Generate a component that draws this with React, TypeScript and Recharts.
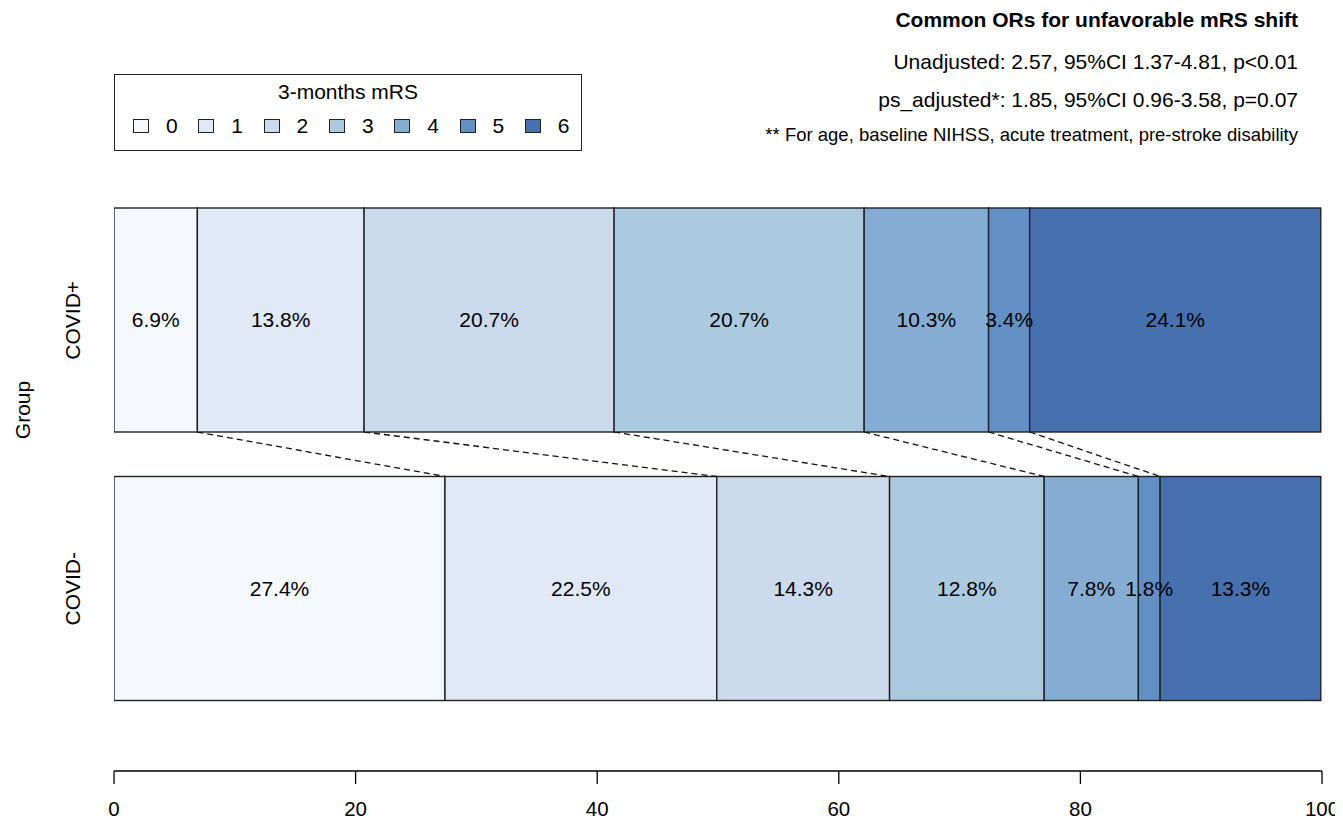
import { BarChart, Bar, XAxis, YAxis, LabelList } from 'recharts';

const groups = ['COVID+', 'COVID-'];
const levels = ['0', '1', '2', '3', '4', '5', '6'];
const covidPos = [6.9, 13.8, 20.7, 20.7, 10.3, 3.4, 24.1];
const covidNeg = [27.4, 22.5, 14.3, 12.8, 7.8, 1.8, 13.3];
const xTicks = [0, 20, 40, 60, 80, 100];
const colors = ['#f5f9fe', '#e0e9f5', '#cbdaed', '#abc9df', '#85add4', '#6290c5', '#4670ae'];

const noteTitle = 'Common ORs for unfavorable mRS shift';
const noteLines = [
  'Unadjusted: 2.57, 95%CI 1.37-4.81, p<0.01',
  'ps_adjusted*: 1.85, 95%CI 0.96-3.58, p=0.07',
];
const footNote = '** For age, baseline NIHSS, acute treatment, pre-stroke disability';

const rows = groups.map((g, gi) => {
  const vals = gi === 0 ? covidPos : covidNeg;
  const row: any = { group: g };
  levels.forEach((l, i) => { row['m' + l] = vals[i]; });
  return row;
});

const FONT = '"Liberation Sans", Arial, Helvetica, sans-serif';

// right edge of each top-bar segment, filled while bars render, read by the bottom bar
const edges: Record<number, { x: number; y: number }> = {};

function makeShape(level: number) {
  return (props: any) => {
    const { x, y, width, height, fill, index } = props;
    let link = null;
    if (index === 0) {
      edges[level] = { x: x + width, y: y + height };
    } else if (level < levels.length - 1 && edges[level]) {
      link = (
        <line x1={edges[level].x} y1={edges[level].y} x2={x + width} y2={y}
          stroke="#111" strokeWidth={1.3} strokeDasharray="6 4" />
      );
    }
    return (
      <g>
        <rect x={x} y={y} width={width} height={height} fill={fill} stroke="#222" strokeWidth={1.4} />
        {link}
      </g>
    );
  };
}

const GroupTick = (props: any) => {
  const { x, y, payload } = props;
  const cx = x - 34;
  return (
    <text x={cx} y={y} transform={`rotate(-90, ${cx}, ${y})`} textAnchor="middle"
      dominantBaseline="central" fontSize={21} fill="#000" fontFamily={FONT}>
      {payload.value}
    </text>
  );
};

function Legend() {
  return (
    <div style={{
      position: 'absolute', left: 106, top: 66, width: 468, height: 77,
      border: '1.5px solid #222', boxSizing: 'border-box', fontFamily: FONT, color: '#000',
    }}>
      <div style={{ position: 'absolute', top: 5, width: '100%', textAlign: 'center', fontSize: 21, lineHeight: '24px' }}>
        3-months mRS
      </div>
      {levels.map((l, i) => (
        <div key={l} style={{ position: 'absolute', left: 18 + i * 65.3, top: 39, height: 24, display: 'flex', alignItems: 'center' }}>
          <span style={{ display: 'inline-block', width: 14, height: 12, background: colors[i], border: '1px solid #222' }} />
          <span style={{ marginLeft: 17, fontSize: 21, lineHeight: '24px' }}>{l}</span>
        </div>
      ))}
    </div>
  );
}

export default function App() {
  return (
    <div style={{ position: 'relative', width: 1335, height: 811, fontFamily: FONT }}>
      <div style={{ position: 'absolute', right: 45, top: 0, textAlign: 'right', color: '#000', whiteSpace: 'nowrap' }}>
        <div style={{ fontSize: 21, fontWeight: 'bold', lineHeight: '24px', marginTop: 0 }}>{noteTitle}</div>
        <div style={{ fontSize: 21, lineHeight: '24px', marginTop: 18 }}>{noteLines[0]}</div>
        <div style={{ fontSize: 21, lineHeight: '24px', marginTop: 14 }}>{noteLines[1]}</div>
        <div style={{ fontSize: 18.5, lineHeight: '20px', marginTop: 13 }}>{footNote}</div>
      </div>
      <Legend />
      <BarChart width={1335} height={811} data={rows} layout="vertical"
        margin={{ top: 178, right: 21, bottom: 0, left: 0 }} barSize={224}>
        <XAxis type="number" domain={[0, 100]} ticks={xTicks} allowDataOverflow
          tickSize={13} tickMargin={17} height={48}
          axisLine={{ stroke: '#000', strokeWidth: 1.3 }} tickLine={{ stroke: '#000', strokeWidth: 1.3 }}
          tick={{ fontSize: 20.5, fill: '#000', fontFamily: FONT }} />
        <YAxis type="category" dataKey="group" width={106} axisLine={false} tickLine={false}
          padding={{ top: 0, bottom: 48 }} tick={<GroupTick />}
          label={{
            content: () => (
              <text x={14} y={402} transform="rotate(-90, 14, 402)" textAnchor="middle"
                dominantBaseline="central" fontSize={21} fill="#000" fontFamily={FONT}>Group</text>
            ),
          }} />
        <XAxis xAxisId="lab" type="number" domain={[0, 100]} hide />
        <YAxis yAxisId="lab" type="category" dataKey="group" hide padding={{ top: 0, bottom: 48 }} />
        {levels.map((l, i) => (
          <Bar key={'b' + l} dataKey={'m' + l} stackId="mrs" fill={colors[i]}
            shape={makeShape(i)} isAnimationActive={false} />
        ))}
        {levels.map((l) => (
          <Bar key={'t' + l} dataKey={'m' + l} stackId="lab" xAxisId="lab" yAxisId="lab"
            fill="none" stroke="none" isAnimationActive={false}>
            <LabelList dataKey={'m' + l} position="center" fill="#000" fontSize={21} fontFamily={FONT}
              formatter={(v: any) => `${Number(v).toFixed(1)}%`} />
          </Bar>
        ))}
      </BarChart>
    </div>
  );
}
